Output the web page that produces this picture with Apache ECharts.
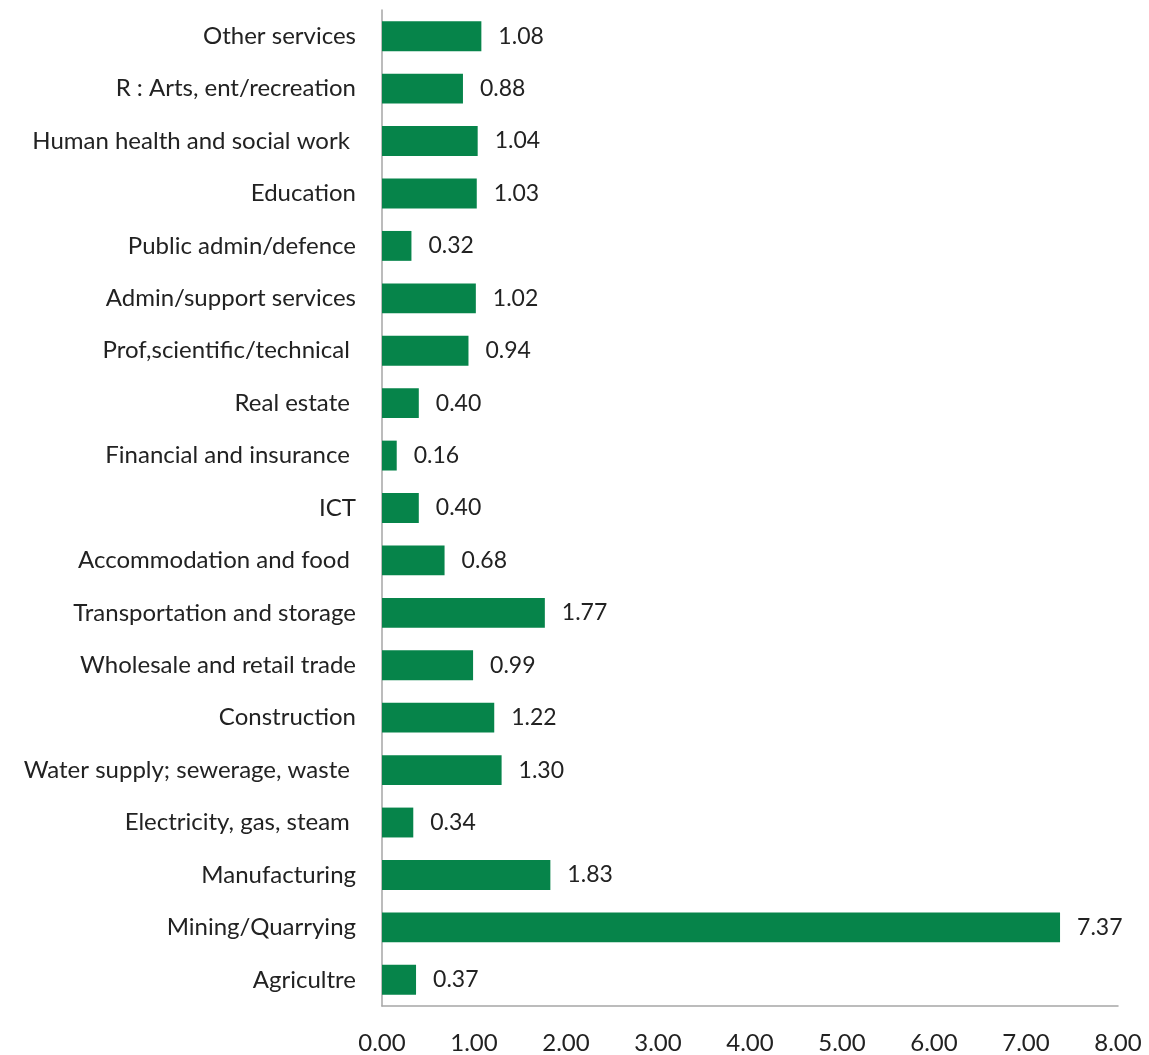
<!DOCTYPE html>
<html>
<head>
<meta charset="utf-8">
<script src="https://cdn.jsdelivr.net/npm/echarts@6/dist/echarts.min.js"></script>
<style>
  html, body { margin: 0; padding: 0; background: #fff; }
  #chart { width: 1149px; height: 1055px; }
</style>
</head>
<body>
<div id="chart"></div>
<script>
// Industry categories, listed bottom to top
const categories = [
  'Agricultre',
  'Mining/Quarrying',
  'Manufacturing',
  'Electricity, gas, steam ',
  'Water supply; sewerage, waste ',
  'Construction',
  'Wholesale and retail trade',
  'Transportation and storage',
  'Accommodation and food ',
  'ICT',
  'Financial and insurance ',
  'Real estate ',
  'Prof,scientific/technical ',
  'Admin/support services',
  'Public admin/defence',
  'Education',
  'Human health and social work ',
  'R : Arts, ent/recreation',
  'Other services'
];

const values = [
  0.37, 7.37, 1.83, 0.34, 1.30, 1.22, 0.99, 1.77, 0.68, 0.40,
  0.16, 0.40, 0.94, 1.02, 0.32, 1.03, 1.04, 0.88, 1.08
];

const xTicks = [0, 1, 2, 3, 4, 5, 6, 7, 8];

const FONT = 'Lato, "Open Sans", sans-serif';
const chart = echarts.init(document.getElementById('chart'));

chart.setOption({
  animation: false,
  backgroundColor: '#ffffff',
  grid: { left: 382, right: 31, top: 10, bottom: 45, containLabel: false },
  xAxis: {
    type: 'value',
    min: xTicks[0],
    max: xTicks[xTicks.length - 1],
    interval: 1,
    axisLine: { show: true, lineStyle: { color: '#a6a6a6', width: 1.5 } },
    axisTick: { show: false },
    splitLine: { show: false },
    axisLabel: {
      margin: 25,
      color: '#222',
      fontFamily: FONT,
      fontSize: 24,
      formatter: v => v.toFixed(2)
    }
  },
  yAxis: {
    type: 'category',
    data: categories,
    axisLine: { show: true, lineStyle: { color: '#a6a6a6', width: 1.5 } },
    axisTick: { show: false },
    axisLabel: {
      margin: 26,
      color: '#222',
      fontFamily: FONT,
      fontSize: 24,
      padding: [3, 0, 0, 0]
    }
  },
  series: [{
    type: 'bar',
    data: values,
    barCategoryGap: '43%',
    itemStyle: { color: '#06844a' },
    label: {
      show: true,
      position: 'right',
      distance: 17,
      color: '#222',
      fontFamily: FONT,
      fontSize: 23,
      padding: [3, 0, 0, 0],
      formatter: p => p.value.toFixed(2)
    }
  }]
});
</script>
</body>
</html>
